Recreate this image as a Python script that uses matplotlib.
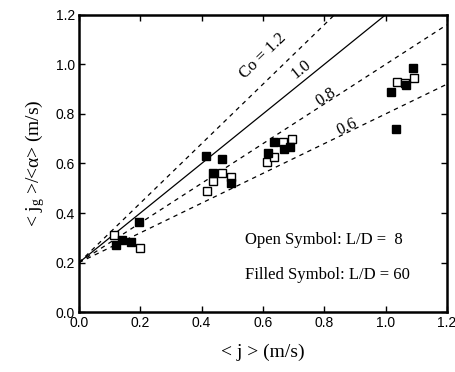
import numpy as np
from matplotlib import pyplot as plt

# open symbols, L/D = 8
open_j = [0.115, 0.20, 0.418, 0.437, 0.467, 0.496, 0.614, 0.636, 0.666, 0.695, 1.037, 1.065, 1.093]
open_v = [0.31, 0.26, 0.49, 0.53, 0.56, 0.547, 0.608, 0.628, 0.685, 0.70, 0.928, 0.925, 0.945]
# filled symbols, L/D = 60
fill_j = [0.12, 0.14, 0.17, 0.195, 0.414, 0.437, 0.467, 0.496, 0.617, 0.636, 0.669, 0.69, 1.018, 1.034, 1.067, 1.09]
fill_v = [0.27, 0.29, 0.285, 0.365, 0.632, 0.563, 0.62, 0.523, 0.644, 0.685, 0.66, 0.665, 0.888, 0.738, 0.916, 0.985]

# drift-flux lines: <jg>/<a> = Co*<j> + Vgj
co_vals = [1.2, 1.0, 0.8, 0.6]
vgj = 0.2
co_labels = ['Co = 1.2', '1.0', '0.8', '0.6']
label_pos = [(0.60, 1.035), (0.725, 0.98), (0.805, 0.868), (0.875, 0.748)]

serif = 'Liberation Serif'
sans = 'Liberation Sans'
plt.rcParams['mathtext.fontset'] = 'custom'
plt.rcParams['mathtext.rm'] = serif
plt.rcParams['mathtext.it'] = serif + ':italic'

fig = plt.figure(figsize=(4.55, 3.72), dpi=100)
ax = fig.add_axes([0.1736, 0.161, 0.8084, 0.799])

jj = np.array([0.0, 1.2])
for co in co_vals:
    ls = '-' if co == 1.0 else (0, (3.5, 3.5))
    ax.plot(jj, co * jj + vgj, color='black', lw=0.9, ls=ls)

# label angles follow the lines in screen space
sx = 0.8084 * 455 / 1.2
sy = 0.799 * 372 / 1.2
for co, lab, (x, y) in zip(co_vals, co_labels, label_pos):
    ang = np.degrees(np.arctan(co * sy / sx))
    ax.text(x, y, lab, rotation=ang, ha='center', va='center',
            fontfamily=serif, fontsize=12)

ax.plot(open_j, open_v, ls='none', marker='s', ms=6, mfc='white', mec='black', mew=1.0)
ax.plot(fill_j, fill_v, ls='none', marker='s', ms=6, mfc='black', mec='black', mew=1.0)

ax.text(0.54, 0.29, 'Open Symbol: L/D =  8', fontfamily=serif, fontsize=12, va='center')
ax.text(0.54, 0.15, 'Filled Symbol: L/D = 60', fontfamily=serif, fontsize=12, va='center')

ax.set_xlim(0, 1.2)
ax.set_ylim(0, 1.2)
ticks = np.arange(0, 1.21, 0.2)
ax.set_xticks(ticks)
ax.set_yticks(ticks)
ax.set_xticklabels(['%.1f' % t for t in ticks], fontfamily=sans, fontsize=10)
ax.set_yticklabels(['%.1f' % t for t in ticks], fontfamily=sans, fontsize=10)
ax.tick_params(direction='in', top=True, right=True, length=4, width=1, pad=3)
for s in ax.spines.values():
    s.set_linewidth(1.8)

ax.set_xlabel('< j > (m/s)', fontfamily=serif, fontsize=14, labelpad=10)
ax.set_ylabel(r'< j$_{\rm g}$ >/<$\rm\alpha$> (m/s)', fontfamily=serif, fontsize=14, labelpad=6)

fig.savefig('out.png', dpi=100)
